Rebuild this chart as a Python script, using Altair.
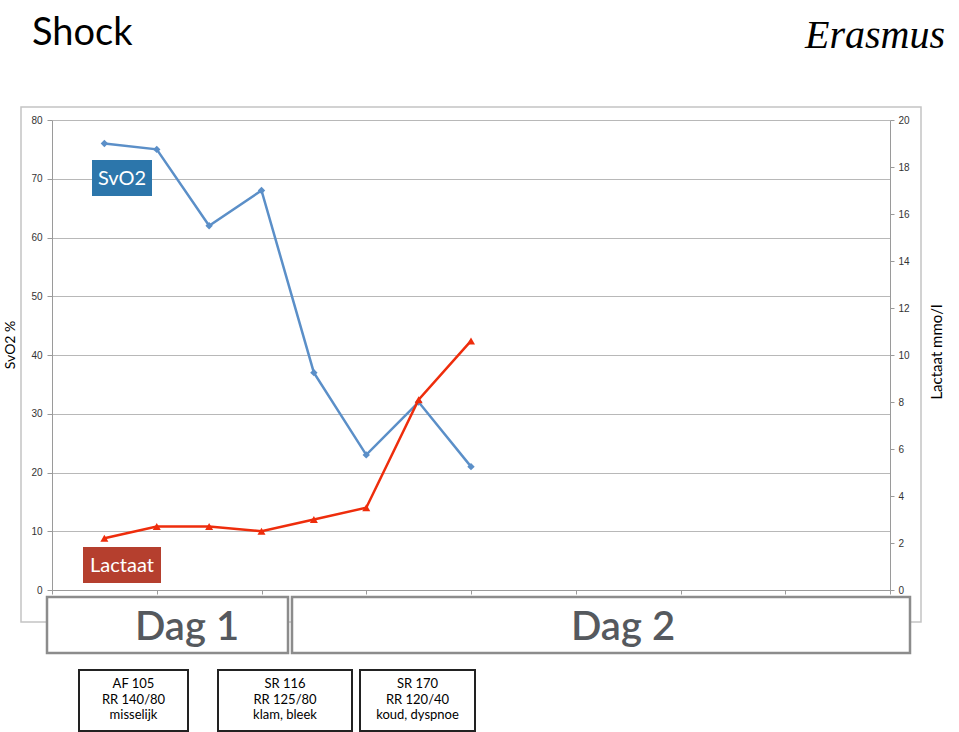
import altair as alt
import pandas as pd

# ---- data ----
time_idx = [1, 2, 3, 4, 5, 6, 7, 8]
svo2_vals = [76, 75, 62, 68, 37, 23, 32, 21]
lactaat_vals = [2.2, 2.7, 2.7, 2.5, 3.0, 3.5, 8.1, 10.6]
svo2_ticks = [0, 10, 20, 30, 40, 50, 60, 70, 80]
lactaat_ticks = [0, 2, 4, 6, 8, 10, 12, 14, 16, 18, 20]
x_ticks = [0, 2, 4, 6, 8, 10, 12, 14, 16]
day_labels = ["Dag 1", "Dag 2"]
note1 = ["AF 105", "RR 140/80", "misselijk"]
note2 = ["SR 116", "RR 125/80", "klam, bleek"]
note3 = ["SR 170", "RR 120/40", "koud, dyspnoe"]

df = pd.DataFrame({"t": time_idx, "svo2": svo2_vals, "lact": lactaat_vals})
one = pd.DataFrame({"a": [0]})

W, H = 838, 470
BLUE = "#5B8FC8"
RED = "#EE2D0C"
FONT = "Lato"

xenc = alt.X("t:Q", scale=alt.Scale(domain=[0, 16], nice=False),
             axis=alt.Axis(values=x_ticks, labels=False, title=None, grid=False,
                           domainColor="#9a9a9a", tickColor="#9a9a9a", tickSize=4))

base = alt.Chart(df)
svo2_y = alt.Y("svo2:Q", scale=alt.Scale(domain=[0, 80], nice=False),
               axis=alt.Axis(values=svo2_ticks, title=None, grid=True, gridColor="#b8b8b8",
                             domainColor="#9a9a9a", tickColor="#9a9a9a", tickSize=5,
                             labelFont="Liberation Sans", labelFontSize=10, labelColor="#333",
                             labelPadding=5))
svo2_layer = alt.layer(
    base.mark_line(color=BLUE, strokeWidth=2.5).encode(x=xenc, y=svo2_y),
    base.mark_point(shape="diamond", filled=True, color=BLUE, size=55, opacity=1).encode(x=xenc, y=svo2_y),
)
lact_y = alt.Y("lact:Q", scale=alt.Scale(domain=[0, 20], nice=False),
               axis=alt.Axis(values=lactaat_ticks, title=None, grid=False, orient="right",
                             domainColor="#9a9a9a", tickColor="#9a9a9a", tickSize=4,
                             labelFont="Liberation Sans", labelFontSize=10, labelColor="#333",
                             labelPadding=4))
lact_layer = alt.layer(
    base.mark_line(color=RED, strokeWidth=2.5).encode(x=xenc, y=lact_y),
    base.mark_point(shape="triangle-up", filled=True, color=RED, size=65, opacity=1).encode(x=xenc, y=lact_y),
)

a = alt.Chart(one)


def rect(x1, x2, y1, y2, fill, stroke, sw):
    kw = dict(stroke=stroke, strokeWidth=sw)
    if fill is None:
        kw["fillOpacity"] = 0
        kw["fill"] = "white"
    else:
        kw["fill"] = fill
    return a.mark_rect(**kw).encode(x=alt.value(x1), x2=alt.value(x2), y=alt.value(y1), y2=alt.value(y2))


def txt(x, y, s, size, color="black", align="center", baseline="alphabetic", font=FONT,
        angle=0, weight="normal", style="normal", lh=None):
    kw = dict(fontSize=size, color=color, align=align, baseline=baseline, font=font,
              fontWeight=weight, fontStyle=style, angle=angle)
    if lh:
        kw["lineHeight"] = lh
    return a.mark_text(**kw).encode(x=alt.value(x), y=alt.value(y), text=alt.value(s))


frame = rect(-31, 869, -13, 502, None, "#c4c4c4", 1.5)

annotations = [
    # series labels
    rect(40, 100, 40, 76, "#2C76AB", None, 0),
    txt(70, 59, "SvO2", 20, "white", baseline="middle"),
    rect(31, 109, 427, 463, "#B53F2E", None, 0),
    txt(70, 446, "Lactaat", 20, "white", baseline="middle"),
    # day boxes
    rect(-5, 236, 477, 533, "white", "#8c8c8c", 2.5),
    rect(240, 858, 477, 533, "white", "#8c8c8c", 2.5),
    txt(135, 520, day_labels[0], 40, "#55595e", weight=600),
    txt(571, 520, day_labels[1], 40, "#55595e", weight=600),
    # notes
    rect(27, 136, 550, 611, "white", "#222", 2),
    rect(166, 300, 550, 611, "white", "#222", 2),
    rect(308, 423, 550, 611, "white", "#222", 2),
    txt(81.5, 558, note1, 13, baseline="top", lh=15.5),
    txt(233, 558, note2, 13, baseline="top", lh=15.5),
    txt(365.5, 558, note3, 13, baseline="top", lh=15.5),
    # titles
    txt(-20, -75, "Shock", 38, align="left"),
    txt(823, -72, "Erasmus", 40, font="Liberation Serif", style="italic"),
    txt(-41, 225, "SvO2 %", 14, angle=270, baseline="middle"),
    txt(885, 232, "Lactaat mmo/l", 15, angle=270, baseline="middle"),
]

chart = alt.layer(frame, svo2_layer, lact_layer, *annotations).resolve_scale(
    y="independent"
).properties(
    width=W, height=H,
    autosize=alt.AutoSizeParams(type="none"),
    padding={"left": 52, "top": 120, "right": 69, "bottom": 142},
).configure_view(stroke=None)

chart.save("out.html", embed_options={"renderer": "svg", "actions": False})
